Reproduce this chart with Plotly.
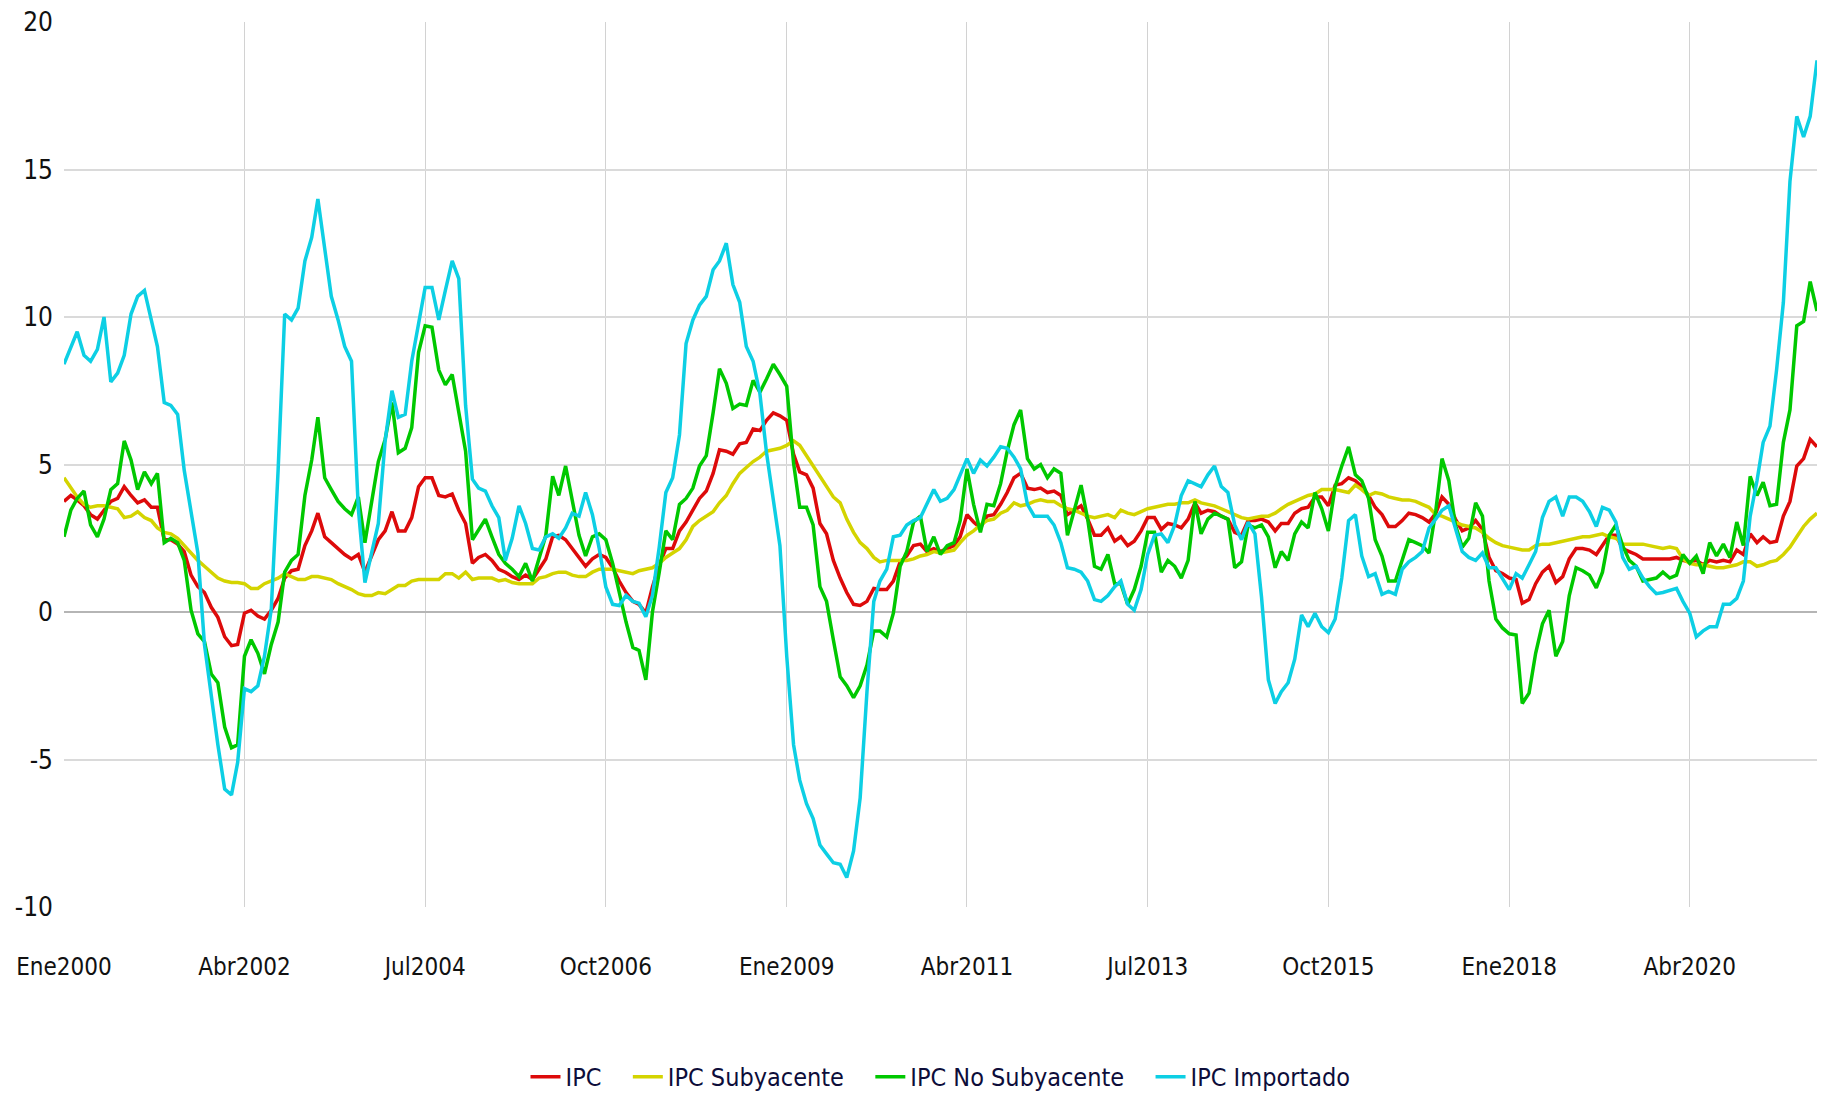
import pandas as pd
import plotly.graph_objects as go

# Monthly dates: Jan 2000 .. Nov 2021
dates = pd.date_range("2000-01-01", periods=263, freq="MS")

ipc = [
    3.75, 3.95, 3.8, 3.6, 3.3, 3.15, 3.45, 3.75, 3.85, 4.25, 3.95, 3.7, 3.8, 3.55, 3.55,
    2.45, 2.45, 2.3, 2.05, 1.25, 0.86, 0.66, 0.16, -0.18, -0.84, -1.14, -1.1, -0.04, 0.06,
    -0.14, -0.24, 0.06, 0.46, 1.15, 1.4, 1.45, 2.25, 2.75, 3.35, 2.55, 2.35, 2.15, 1.95, 1.8, 1.95,
    1.35, 1.95, 2.45, 2.75, 3.4, 2.75, 2.75, 3.2, 4.25, 4.55, 4.55, 3.95, 3.9, 4.0, 3.45,
    3.0, 1.65, 1.85, 1.95, 1.75, 1.45, 1.35, 1.2, 1.1, 1.25, 1.1, 1.45, 1.8, 2.55, 2.6,
    2.45, 2.15, 1.85, 1.55, 1.8, 1.95, 1.85, 1.5, 1.05, 0.66, 0.36,
    0.26, -0.04, 0.85, 1.6, 2.15, 2.15, 2.75, 3.05, 3.45, 3.85, 4.1, 4.7, 5.5, 5.45, 5.35,
    5.7, 5.75, 6.2, 6.15, 6.5, 6.75, 6.65, 6.5, 5.35, 4.75, 4.65, 4.2, 3.0, 2.65, 1.75,
    1.15, 0.66, 0.26, 0.22, 0.36, 0.8, 0.76, 0.76, 1.05, 1.7, 1.9, 2.25, 2.3, 2.05, 2.15,
    2.05, 2.15, 2.25, 2.55,
    3.3, 3.05, 2.85, 3.25, 3.3, 3.65, 4.05, 4.55, 4.7, 4.2, 4.15, 4.2, 4.05, 4.1, 3.95,
    3.3, 3.45, 3.6, 3.15, 2.6, 2.6, 2.85, 2.4, 2.55, 2.25, 2.4, 2.75, 3.2, 3.2, 2.8,
    3.0, 2.95, 2.85, 3.15, 3.7, 3.35, 3.45, 3.4, 3.25, 3.15, 2.7, 2.6,
    3.1, 3.1, 3.15, 3.05, 2.75, 3.0, 3.0, 3.35, 3.5, 3.55, 3.9, 3.9, 3.6, 4.3,
    4.35, 4.55, 4.45, 4.25, 3.95, 3.55, 3.3, 2.9, 2.9, 3.1, 3.35, 3.3, 3.2, 3.05, 3.35,
    3.9, 3.65, 3.15, 2.75, 2.85, 3.1, 2.8, 1.85, 1.4, 1.3, 1.15, 1.1, 0.3,
    0.42, 0.96, 1.35, 1.55, 1.0, 1.2, 1.8, 2.15, 2.15, 2.1, 1.95, 2.25, 2.6, 2.6, 2.15,
    2.05, 1.95, 1.8, 1.8, 1.8, 1.8, 1.8, 1.85, 1.75, 1.7, 1.75, 1.6, 1.75, 1.7, 1.75,
    1.7, 2.1, 1.95, 2.65, 2.35, 2.55, 2.35, 2.4, 3.25, 3.75, 4.95, 5.2, 5.85, 5.6,
]

ipc_subyacente = [
    4.55, 4.2, 3.9, 3.65, 3.55, 3.6, 3.6, 3.55, 3.5, 3.2, 3.25, 3.4, 3.2, 3.1, 2.85,
    2.7, 2.65, 2.5, 2.25, 2.0, 1.75, 1.55, 1.35, 1.15, 1.05, 1.0, 1.0, 0.96, 0.8, 0.8,
    0.96, 1.05, 1.15, 1.3, 1.2, 1.1, 1.1, 1.2, 1.2, 1.15, 1.1, 0.96, 0.86, 0.76, 0.62,
    0.56, 0.56, 0.66, 0.62, 0.76, 0.9, 0.9, 1.05, 1.1, 1.1, 1.1, 1.1, 1.3, 1.3, 1.15,
    1.35, 1.1, 1.15, 1.15, 1.15, 1.05, 1.1, 1.0, 0.96, 0.96, 0.96, 1.15, 1.2, 1.3, 1.35,
    1.35, 1.25, 1.2, 1.2, 1.35, 1.45, 1.45, 1.45, 1.4, 1.35, 1.3,
    1.4, 1.45, 1.5, 1.65, 1.85, 2.0, 2.15, 2.45, 2.9, 3.1, 3.25, 3.4, 3.7, 3.95, 4.35,
    4.7, 4.9, 5.1, 5.25, 5.45, 5.5, 5.55, 5.65, 5.8, 5.65, 5.3, 4.95, 4.6, 4.3, 3.9,
    3.7, 3.15, 2.7, 2.35, 2.15, 1.85, 1.7, 1.75, 1.75, 1.75, 1.75, 1.8, 1.9, 1.95, 2.05,
    2.0, 2.05, 2.1, 2.35,
    2.6, 2.75, 2.95, 3.1, 3.15, 3.35, 3.45, 3.7, 3.6, 3.65, 3.75, 3.8, 3.75, 3.75, 3.6,
    3.5, 3.45, 3.35, 3.25, 3.2, 3.25, 3.3, 3.2, 3.45, 3.35, 3.3, 3.4, 3.5, 3.55, 3.6,
    3.65, 3.65, 3.7, 3.7, 3.8, 3.7, 3.65, 3.6, 3.5, 3.4, 3.3, 3.2,
    3.15, 3.2, 3.25, 3.25, 3.35, 3.5, 3.65, 3.75, 3.85, 3.95, 4.0, 4.15, 4.15, 4.15,
    4.1, 4.05, 4.3, 4.15, 3.95, 4.05, 4.0, 3.9, 3.85, 3.8, 3.8, 3.75, 3.65, 3.55, 3.3,
    3.25, 3.15, 3.05, 2.95, 2.9, 2.85, 2.7, 2.5, 2.35, 2.25, 2.2, 2.15, 2.1,
    2.1, 2.25, 2.3, 2.3, 2.35, 2.4, 2.45, 2.5, 2.55, 2.55, 2.6, 2.65, 2.55, 2.5, 2.3,
    2.3, 2.3, 2.3, 2.25, 2.2, 2.15, 2.2, 2.15, 1.8, 1.65, 1.6, 1.6, 1.55, 1.5, 1.5,
    1.55, 1.6, 1.7, 1.7, 1.55, 1.6, 1.7, 1.75, 1.95, 2.2, 2.55, 2.9, 3.15, 3.35,
]

ipc_no_subyacente = [
    2.55, 3.45, 3.85, 4.1, 2.95, 2.55, 3.15, 4.15, 4.35, 5.8, 5.15, 4.15, 4.75, 4.35, 4.7,
    2.35, 2.5, 2.35, 1.75, 0.06, -0.74, -1.0, -2.1, -2.4, -3.9, -4.6, -4.5, -1.5, -0.94, -1.4,
    -2.1, -1.1, -0.34, 1.35, 1.75, 1.95, 3.95, 5.15, 6.6, 4.55, 4.15, 3.75, 3.5, 3.3, 3.9,
    2.35, 3.75, 5.1, 5.85, 7.1, 5.4, 5.55, 6.25, 8.8, 9.7, 9.65, 8.2, 7.7, 8.05, 6.7,
    5.45, 2.45, 2.8, 3.15, 2.55, 1.95, 1.65, 1.45, 1.2, 1.65, 1.05, 1.85, 2.6, 4.6, 3.95,
    4.95, 3.75, 2.6, 1.9, 2.55, 2.65, 2.45, 1.65, 0.66, -0.34, -1.2,
    -1.3, -2.3, 0.0, 1.35, 2.75, 2.45, 3.65, 3.85, 4.2, 4.95, 5.3, 6.75, 8.25, 7.75, 6.9,
    7.05, 7.0, 7.85, 7.45, 7.9, 8.4, 8.05, 7.65, 5.05, 3.55, 3.55, 2.95, 0.86, 0.36, -0.94,
    -2.2, -2.5, -2.9, -2.5, -1.8, -0.64, -0.64, -0.84, -0.04, 1.55, 2.05, 3.05, 3.25, 2.05, 2.55,
    1.95, 2.25, 2.35, 3.1,
    4.85, 3.65, 2.7, 3.65, 3.6, 4.35, 5.45, 6.35, 6.85, 5.2, 4.85, 5.0, 4.55, 4.85, 4.7,
    2.6, 3.45, 4.3, 3.15, 1.55, 1.45, 1.95, 0.96, 0.96, 0.26, 0.76, 1.55, 2.7, 2.7, 1.35,
    1.75, 1.55, 1.15, 1.75, 3.75, 2.65, 3.15, 3.35, 3.25, 3.15, 1.5, 1.7,
    2.95, 2.85, 2.95, 2.55, 1.5, 2.05, 1.75, 2.65, 3.05, 2.85, 4.05, 3.5, 2.75, 4.25,
    4.95, 5.6, 4.65, 4.45, 3.85, 2.45, 1.9, 1.05, 1.05, 1.75, 2.45, 2.35, 2.25, 2.0, 3.45,
    5.2, 4.45, 2.95, 2.2, 2.5, 3.7, 3.25, 1.05, -0.24, -0.54, -0.74, -0.78, -3.1,
    -2.75, -1.4, -0.4, 0.06, -1.5, -1.0, 0.56, 1.5, 1.4, 1.25, 0.82, 1.35, 2.6, 2.95, 2.25,
    1.75, 1.55, 1.05, 1.1, 1.15, 1.35, 1.15, 1.25, 1.95, 1.65, 1.9, 1.3, 2.35, 1.9, 2.3,
    1.85, 3.05, 2.25, 4.6, 3.95, 4.4, 3.6, 3.65, 5.75, 6.85, 9.7, 9.85, 11.2, 10.2,
]

ipc_importado = [
    8.4, 8.95, 9.5, 8.7, 8.5, 8.9, 10.0, 7.8, 8.1, 8.7, 10.1, 10.7, 10.9, 9.9, 9.0,
    7.1, 7.0, 6.7, 4.8, 3.4, 2.0, -1.1, -2.9, -4.5, -6.0, -6.2, -5.1, -2.6, -2.7, -2.5,
    -1.5, 0.1, 4.8, 10.1, 9.9, 10.3, 11.9, 12.7, 14.0, 12.4, 10.7, 9.9, 9.0, 8.5, 3.5,
    1.0, 2.0, 3.0, 5.8, 7.5, 6.6, 6.7, 8.5, 9.7, 11.0, 11.0, 9.9, 10.9, 11.9, 11.3,
    7.0, 4.5, 4.2, 4.1, 3.6, 3.2, 1.75, 2.5, 3.6, 3.0, 2.15, 2.1, 2.55, 2.65, 2.5,
    2.85, 3.35, 3.25, 4.05, 3.3, 2.15, 0.85, 0.26, 0.22, 0.56, 0.36,
    0.3, -0.16, 0.56, 2.2, 4.05, 4.55, 6.0, 9.1, 9.9, 10.4, 10.7, 11.6, 11.9, 12.5, 11.1,
    10.5, 9.0, 8.5, 7.4, 5.4, 3.85, 2.25, -1.5, -4.5, -5.7, -6.5, -7.0, -7.9, -8.2, -8.5,
    -8.55, -9.0, -8.1, -6.3, -2.7, 0.36, 1.05, 1.45, 2.55, 2.6, 2.95, 3.1, 3.2, 3.65, 4.15,
    3.75, 3.85, 4.15, 4.65,
    5.2, 4.7, 5.15, 4.95, 5.25, 5.6, 5.55, 5.25, 4.85, 3.65, 3.25, 3.25, 3.25, 2.95, 2.35,
    1.5, 1.45, 1.35, 1.05, 0.42, 0.36, 0.56, 0.86, 1.05, 0.26, 0.06, 0.76, 1.95, 2.6, 2.65,
    2.35, 2.95, 3.95, 4.45, 4.35, 4.25, 4.65, 4.95, 4.25, 4.05, 2.95, 2.45,
    3.05, 2.65, 0.5, -2.3, -3.1, -2.7, -2.4, -1.6, -0.1, -0.5, -0.04, -0.5, -0.7, -0.24,
    1.15, 3.1, 3.3, 1.9, 1.2, 1.3, 0.6, 0.7, 0.6, 1.45, 1.7, 1.85, 2.05, 2.85, 3.15,
    3.45, 3.6, 2.85, 2.05, 1.85, 1.75, 2.0, 1.5, 1.5, 1.15, 0.76, 1.3, 1.15,
    1.6, 2.05, 3.2, 3.75, 3.9, 3.25, 3.9, 3.9, 3.75, 3.4, 2.9, 3.55, 3.45, 3.05, 1.85,
    1.45, 1.55, 1.15, 0.86, 0.62, 0.66, 0.72, 0.8, 0.36, -0.04, -0.84, -0.64, -0.5, -0.5, 0.26,
    0.26, 0.46, 1.05, 3.25, 4.45, 5.75, 6.3, 8.2, 10.5, 14.6, 16.8, 16.1, 16.8, 18.7,
]

tick_labels = ["Ene2000", "Abr2002", "Jul2004", "Oct2006", "Ene2009",
               "Abr2011", "Jul2013", "Oct2015", "Ene2018", "Abr2020"]
tick_dates = [dates[i * 27] for i in range(len(tick_labels))]
y_ticks = [-10, -5, 0, 5, 10, 15, 20]
y_tick_text = ["-10", "-5", "0", "5", "10", "15", "20"]

series = [
    ("IPC", ipc, "#dd0a0a"),
    ("IPC Subyacente", ipc_subyacente, "#d4d400"),
    ("IPC No Subyacente", ipc_no_subyacente, "#00c800"),
    ("IPC Importado", ipc_importado, "#0dcfe4"),
]

FONT = "DejaVu Sans Condensed, DejaVu Sans, sans-serif"
FS = 24
SP = "\u00a0" * 3

fig = go.Figure()
for i, (name, vals, color) in enumerate(series):
    fig.add_trace(go.Scatter(
        x=dates, y=vals, name=name + (SP if i < len(series) - 1 else ""), mode="lines",
        line=dict(color=color, width=3.5),
    ))

fig.update_layout(
    width=1830, height=1101,
    margin=dict(l=64, r=13, t=22, b=194, autoexpand=False),
    paper_bgcolor="white", plot_bgcolor="white",
    font=dict(family=FONT, size=FS, color="#111111"),
    showlegend=True,
    legend=dict(
        orientation="h", x=0.5, xanchor="center", y=-0.218, yanchor="bottom",
        font=dict(family=FONT, size=FS + 1, color="#0d0d3a"),
        itemwidth=30, tracegroupgap=0,
    ),
    xaxis=dict(
        range=[dates[0], dates[-1]],
        tickmode="array", tickvals=tick_dates, ticktext=tick_labels,
        showgrid=True, gridcolor="#d2d2d2", gridwidth=1,
        zeroline=False, showline=False, ticks="",
        ticklabelstandoff=43, automargin=False,
        tickfont=dict(family=FONT, size=FS, color="#111111"),
    ),
    yaxis=dict(
        range=[-10, 20], tickmode="array", tickvals=y_ticks, ticktext=y_tick_text,
        showgrid=True, gridcolor="#dadada", gridwidth=2,
        zeroline=True, zerolinecolor="#b5b5b5", zerolinewidth=2,
        showline=False, ticks="",
        ticklabelstandoff=10, automargin=False,
        tickfont=dict(family=FONT, size=FS + 2, color="#111111"),
    ),
)

fig.write_html(
    "out.html",
    config={"displayModeBar": False},
    post_script="document.body.style.margin='0';document.body.style.overflow='hidden';",
)
